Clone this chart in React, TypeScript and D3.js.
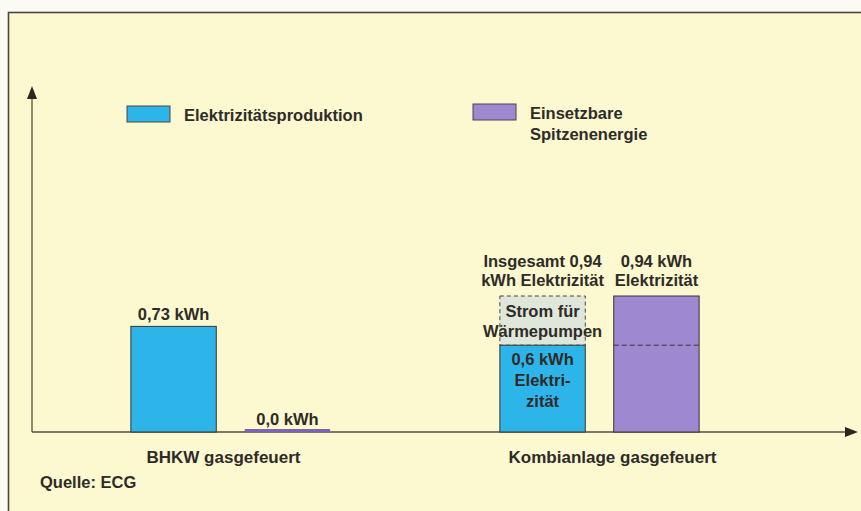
import React from "react";
import * as d3 from "d3";

// data
const groups = ["BHKW gasgefeuert", "Kombianlage gasgefeuert"];
const seriesKeys = ["elec", "peak"];
const elecValues = [0.73, 0.6];
const heatPumpExtra = [0, 0.34]; // dashed part on top of the Kombi bar
const peakValues = [0.0, 0.94];
const peakDashAt = [null, 0.6];

const bhkwElecLabel = ["0,73 kWh"];
const bhkwPeakLabel = ["0,0 kWh"];
const kombiTotalLabel = ["Insgesamt 0,94", "kWh Elektrizität"];
const kombiPeakLabel = ["0,94 kWh", "Elektrizität"];
const heatPumpLabel = ["Strom für", "Wärmepumpen"];
const kombiInnerLabel = ["0,6 kWh", "Elektri-", "zität"];

const legendItems = [
  { key: "elec", lines: ["Elektrizitätsproduktion"] },
  { key: "peak", lines: ["Einsetzbare", "Spitzenenergie"] },
];

const colors: Record<string, string> = {
  elec: "#2db4e8",
  peak: "#9d89d0",
  extra: "#dfe7da",
};

const W = 861;
const H = 511;
const baseY = 432;
const axisX = 32;
const ink = "#2e2b28";
const font = "'Liberation Sans', Arial, sans-serif";
const fs = 16.5;

export default function App() {
  const x0 = d3
    .scaleBand<string>()
    .domain(groups)
    .range([46, 784])
    .paddingInner(0.46)
    .paddingOuter(0.23);
  const x1 = d3
    .scaleBand<string>()
    .domain(seriesKeys)
    .range([0, x0.bandwidth()])
    .paddingInner(0.25);
  const y = d3.scaleLinear().domain([0, 0.94]).range([baseY, 296]);

  const bw = x1.bandwidth();
  const gx = (i: number) => x0(groups[i]) as number;
  const ex = (i: number) => gx(i) + (x1("elec") as number);
  const px = (i: number) => gx(i) + (x1("peak") as number);
  const labelShift = [-7, 13];

  const txt = (
    lines: string[],
    cx: number,
    firstBaseline: number,
    lh = 19,
    key = ""
  ) =>
    lines.map((l, k) => (
      <text
        key={key + k}
        x={cx}
        y={firstBaseline + k * lh}
        textAnchor="middle"
        fontFamily={font}
        fontWeight="bold"
        fontSize={fs}
        fill={ink}
      >
        {l}
      </text>
    ));

  const legendX = [127, 473];

  return (
    <svg
      width={W}
      height={H}
      style={{ position: "absolute", left: 0, top: 0, background: "#fbfbf3" }}
    >
      <rect
        x={8.5}
        y={12.5}
        width={W + 10}
        height={H + 10}
        fill="#fcf8d0"
        stroke="#4b4640"
        strokeWidth={1.6}
      />

      {/* axes */}
      <line x1={axisX} y1={baseY} x2={axisX} y2={97} stroke="#5a4c3e" strokeWidth={1.3} />
      <path d={`M${axisX},86 L${axisX - 5},99 L${axisX + 5},99 Z`} fill="#2a2622" />
      <line x1={axisX} y1={baseY} x2={846} y2={baseY} stroke="#5a4c3e" strokeWidth={1.3} />
      <path d={`M858,${baseY} L845,${baseY - 5} L845,${baseY + 5} Z`} fill="#2a2622" />

      {/* legend */}
      {legendItems.map((it, i) => (
        <g key={it.key}>
          <rect
            x={legendX[i]}
            y={i === 0 ? 106 : 104}
            width={43}
            height={16}
            fill={colors[it.key]}
            stroke="#4b4640"
            strokeWidth={1}
          />
          {it.lines.map((l, k) => (
            <text
              key={k}
              x={legendX[i] + 57}
              y={(i === 0 ? 121 : 119) + k * 21}
              fontFamily={font}
              fontWeight="bold"
              fontSize={fs}
              fill={ink}
            >
              {l}
            </text>
          ))}
        </g>
      ))}

      {/* bars */}
      {groups.map((g, i) => (
        <g key={g}>
          {heatPumpExtra[i] > 0 && (
            <rect
              x={ex(i)}
              y={y(elecValues[i] + heatPumpExtra[i])}
              width={bw}
              height={y(elecValues[i]) - y(elecValues[i] + heatPumpExtra[i])}
              fill={colors.extra}
              stroke="#4b4640"
              strokeWidth={1}
              strokeDasharray="4,3"
            />
          )}
          <rect
            x={ex(i)}
            y={y(elecValues[i])}
            width={bw}
            height={baseY - y(elecValues[i])}
            fill={colors.elec}
            stroke="#3a3530"
            strokeWidth={1}
          />
          {peakValues[i] > 0 ? (
            <rect
              x={px(i)}
              y={y(peakValues[i])}
              width={bw}
              height={baseY - y(peakValues[i])}
              fill={colors.peak}
              stroke="#3a3530"
              strokeWidth={1}
            />
          ) : (
            <rect
              x={px(i)}
              y={baseY - 3}
              width={bw}
              height={3}
              fill="#7d62b8"
            />
          )}
          {peakDashAt[i] != null && (
            <line
              x1={px(i)}
              x2={px(i) + bw}
              y1={y(peakDashAt[i] as number)}
              y2={y(peakDashAt[i] as number)}
              stroke="#3a3530"
              strokeWidth={1}
              strokeDasharray="5,3"
            />
          )}
          <text
            x={gx(i) + x0.bandwidth() / 2 + labelShift[i]}
            y={463}
            textAnchor="middle"
            fontFamily={font}
            fontWeight="bold"
            fontSize={17}
            fill={ink}
          >
            {g}
          </text>
        </g>
      ))}

      {/* value labels */}
      {txt(bhkwElecLabel, ex(0) + bw / 2, y(elecValues[0]) - 6, 19, "a")}
      {txt(bhkwPeakLabel, px(0) + bw / 2, baseY - 7, 19, "b")}
      {txt(kombiTotalLabel, ex(1) + bw / 2, 267, 19, "c")}
      {txt(kombiPeakLabel, px(1) + bw / 2, 267, 19, "d")}
      {txt(heatPumpLabel, ex(1) + bw / 2, 317, 20, "e")}
      {txt(kombiInnerLabel, ex(1) + bw / 2, 365, 21, "f")}

      <text x={40} y={488} fontFamily={font} fontWeight="bold" fontSize={fs} fill={ink}>
        Quelle: ECG
      </text>
    </svg>
  );
}
